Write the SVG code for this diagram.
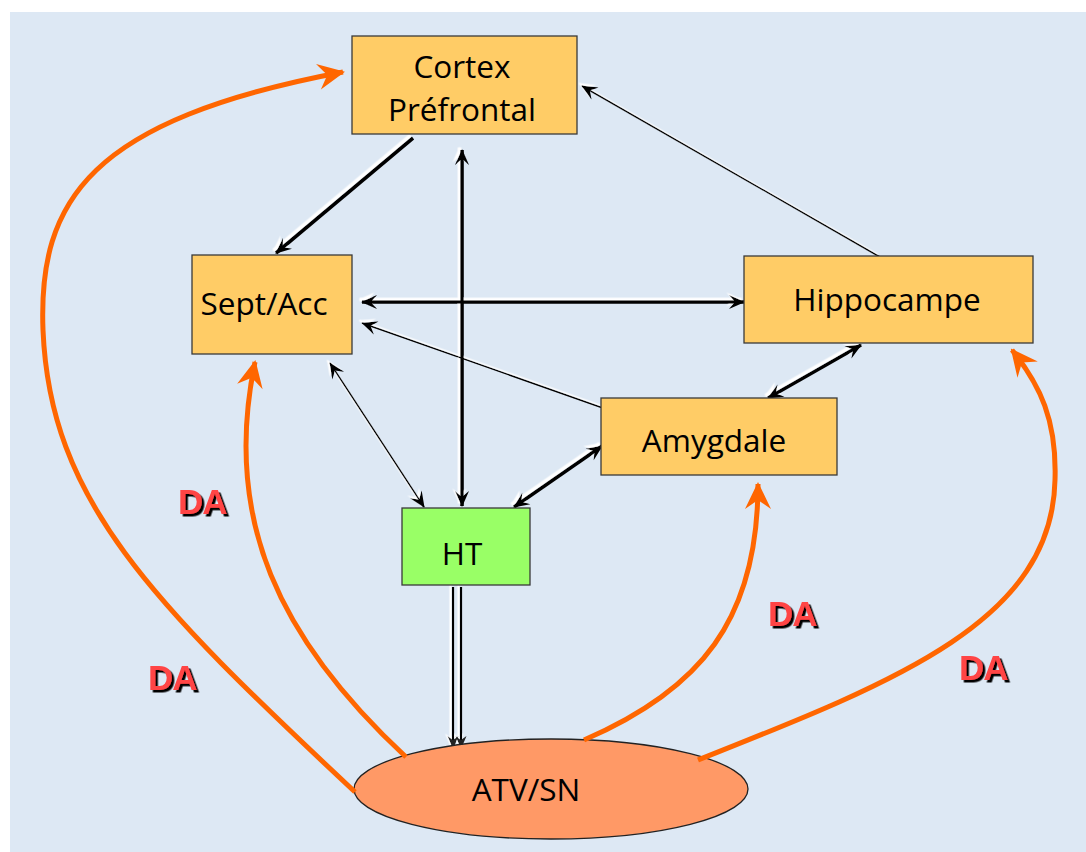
<svg xmlns="http://www.w3.org/2000/svg" width="1086" height="852" viewBox="0 0 1086 852">
<defs>
<style>
.box{fill:#ffcc66;stroke:#3a3a3a;stroke-width:1.3}
.lbl{font-family:"Open Sans","Noto Sans",sans-serif;font-size:31.5px;fill:#000;text-anchor:middle}
.c{fill:none;stroke:#000;stroke-linecap:butt}
.thick{stroke-width:3.6}
.thin{stroke-width:1.5}
.da{font-family:"Liberation Sans",Arial,sans-serif;font-weight:bold;font-size:35px;letter-spacing:-1px;fill:#ff4444}
.or{fill:none;stroke:#ff6600;stroke-width:5}
</style>
<filter id="hl" filterUnits="userSpaceOnUse" x="0" y="0" width="1086" height="852">
<feDropShadow dx="-2.5" dy="-2.5" stdDeviation="0.4" flood-color="#ffffff" flood-opacity="1"/>
</filter>
<filter id="sh" filterUnits="userSpaceOnUse" x="0" y="0" width="1086" height="852">
<feDropShadow dx="2.5" dy="2.5" stdDeviation="0.2" flood-color="#000000" flood-opacity="1"/>
</filter>
<marker id="ah" viewBox="-17 -9 19 18" refX="0" refY="0" markerWidth="19" markerHeight="18" markerUnits="userSpaceOnUse" orient="auto-start-reverse">
<path d="M1,0 L-15,-7 L-9,0 L-15,7 z" fill="#000"/>
</marker>
<marker id="ahs" viewBox="-14 -7 16 14" refX="0" refY="0" markerWidth="16" markerHeight="14" markerUnits="userSpaceOnUse" orient="auto-start-reverse">
<path d="M1,0 L-12,-5.5 L-8,0 L-12,5.5 z" fill="#222"/>
</marker>
<marker id="oh" viewBox="-28 -15 30 30" refX="0" refY="0" markerWidth="30" markerHeight="30" markerUnits="userSpaceOnUse" orient="auto">
<path d="M2,0 L-25,-13 L-16,0 L-25,13 z" fill="#ff6600"/>
</marker>
</defs>
<rect x="0" y="0" width="1086" height="852" fill="#ffffff"/>
<rect x="10" y="12" width="1076" height="840" fill="#dde8f4"/>

<g id="connectors">
<g filter="url(#hl)">
<line class="c thick" x1="413" y1="138" x2="276" y2="253" marker-end="url(#ah)"/>
<line class="c thick" x1="462" y1="150" x2="462" y2="506" marker-start="url(#ah)" marker-end="url(#ah)"/>
<line class="c thin" x1="880" y1="257" x2="582" y2="86" marker-end="url(#ah)"/>
<line class="c thick" x1="362" y1="302" x2="744" y2="302" marker-start="url(#ah)" marker-end="url(#ah)"/>
<line class="c thin" x1="603" y1="408" x2="362" y2="323" marker-end="url(#ah)"/>
<line class="c thin" x1="330" y1="363" x2="424" y2="507" marker-start="url(#ah)" marker-end="url(#ah)"/>
<line class="c thick" x1="602" y1="446" x2="514" y2="507" marker-start="url(#ah)" marker-end="url(#ah)"/>
<line class="c thick" x1="861" y1="345" x2="768" y2="398" marker-start="url(#ah)" marker-end="url(#ah)"/>
<line class="c" stroke="#333" stroke-width="2.2" x1="453" y1="587" x2="453" y2="748" marker-end="url(#ahs)"/>
<line class="c" stroke="#333" stroke-width="2.2" x1="461" y1="587" x2="461" y2="748" marker-end="url(#ahs)"/>
</g>
</g>

<g id="atv">
<ellipse cx="551" cy="789" rx="197" ry="50" fill="#ff9966" stroke="#222" stroke-width="1.3"/>
<text class="lbl" x="526" y="801">ATV/SN</text>
</g>

<g id="da-connectors">
<path class="or" d="M355,792 C 150,600 50,500 43,330 C 38,200 90,120 343,72" marker-end="url(#oh)"/>
<path class="or" d="M406,757 C 280,640 222,520 255,362" marker-end="url(#oh)"/>
<path class="or" d="M584,740 C 700,690 758,620 758,484" marker-end="url(#oh)"/>
<path class="or" d="M698,760 C 900,680 1052,620 1055,480 C 1057,420 1040,385 1012,350" marker-end="url(#oh)"/>
</g>

<g id="cortex">
<rect class="box" x="352" y="36" width="225" height="98"/>
<text class="lbl" x="462" y="78">Cortex</text>
<text class="lbl" x="462" y="121">Préfrontal</text>
</g>
<g id="sept">
<rect class="box" x="192" y="255" width="160" height="99"/>
<text class="lbl" x="264" y="315">Sept/Acc</text>
</g>
<g id="hippocampe">
<rect class="box" x="744" y="256" width="289" height="87"/>
<text class="lbl" x="887" y="311">Hippocampe</text>
</g>
<g id="amygdale">
<rect class="box" x="601" y="398" width="236" height="77"/>
<text class="lbl" x="714" y="452">Amygdale</text>
</g>
<g id="ht">
<rect x="402" y="508" width="128" height="77" fill="#99ff66" stroke="#3a3a3a" stroke-width="1.3"/>
<text class="lbl" x="462" y="565">HT</text>
</g>

<g id="da-labels" filter="url(#sh)">
<text class="da" x="178" y="514">DA</text>
<text class="da" x="148" y="690">DA</text>
<text class="da" x="768" y="626">DA</text>
<text class="da" x="959" y="680">DA</text>
</g>
</svg>
